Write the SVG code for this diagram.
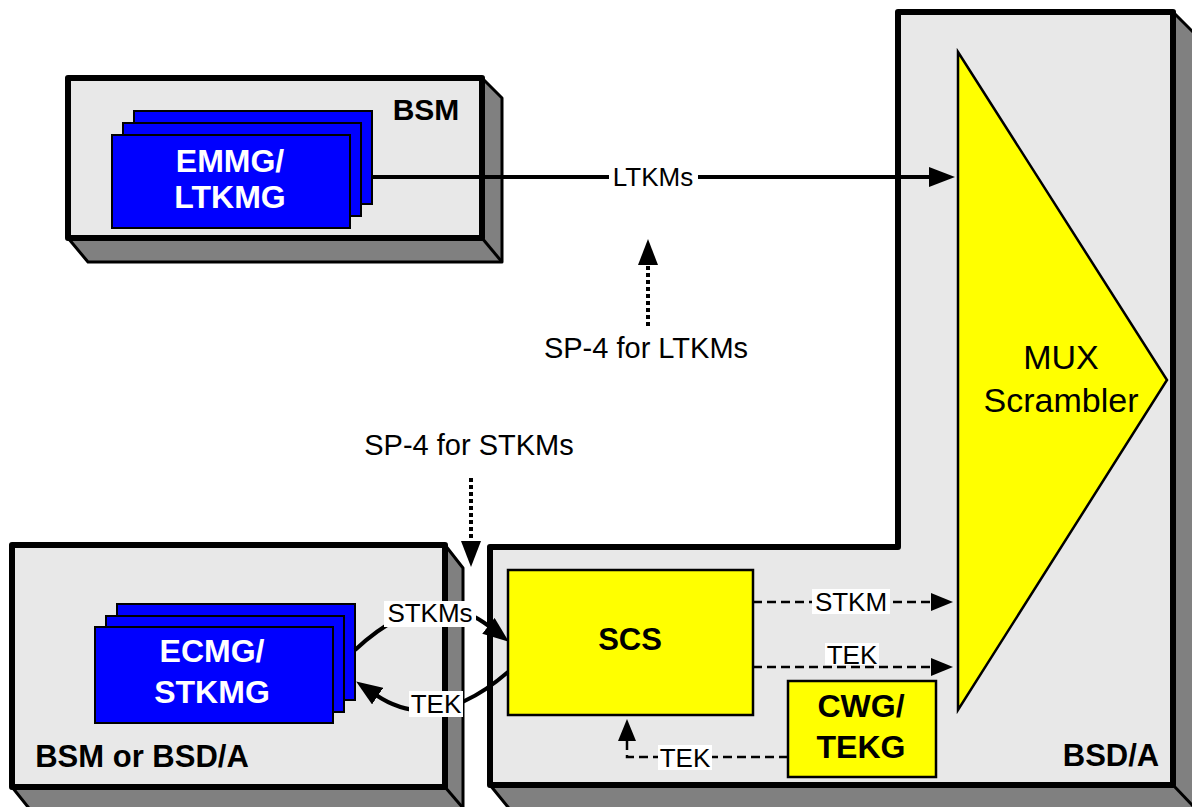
<svg xmlns="http://www.w3.org/2000/svg" width="1192" height="807" viewBox="0 0 1192 807">
<style>
.face{fill:#e8e8e8;stroke:#000;stroke-width:6;stroke-linejoin:round}
.ext{fill:#808080;stroke:#000;stroke-width:3;stroke-linejoin:round}
.edge{stroke:#000;stroke-width:3}
.blue{fill:#0000ff;stroke:#000;stroke-width:2}
.yel{fill:#ffff00;stroke:#000;stroke-width:2.5}
.t{font-family:"Liberation Sans",Arial,sans-serif;text-anchor:middle}
.wb{fill:#fff;font-weight:bold;font-size:32px}
.kb{fill:#000;font-weight:bold}
.lbl{fill:#000;font-size:26px}
.bg{fill:#fff}
.solid{fill:none;stroke:#000;stroke-width:4}
.dot{fill:none;stroke:#000;stroke-width:4;stroke-dasharray:4 3}
.dash{fill:none;stroke:#000;stroke-width:2.5;stroke-dasharray:9 5}
</style>
<defs>
<marker id="ah" markerUnits="userSpaceOnUse" markerWidth="26" markerHeight="20" refX="2" refY="10" orient="auto">
<path d="M0,0 L26,10 L0,20 Z" fill="#000"/>
</marker>
<marker id="ahs" markerUnits="userSpaceOnUse" markerWidth="22" markerHeight="20" refX="2" refY="10" orient="auto">
<path d="M0,1 L22,10 L0,19 Z" fill="#000"/>
</marker>
</defs>

<g id="bsm-box">
<polygon class="ext" points="482,78 502,98 502,262 88,262 68,238 482,238"/>
<line class="edge" x1="482" y1="238" x2="502" y2="262"/>
<rect class="face" x="68" y="78" width="414" height="160"/>
<text class="t kb" x="426" y="120" font-size="30">BSM</text>
</g>

<g id="bsd-box">
<polygon class="ext" points="1173,12 1196,35 1196,812 512,812 490,785 1173,785"/>
<line class="edge" x1="1173" y1="785" x2="1195" y2="808"/>
<path class="face" d="M490,547 L898,547 L898,12 L1173,12 L1173,785 L490,785 Z"/>
<text class="t kb" x="1111" y="766" font-size="31">BSD/A</text>
</g>

<g id="left-box">
<polygon class="ext" points="445,545 463,568 463,812 32,812 12,787 445,787"/>
<line class="edge" x1="445" y1="787" x2="463" y2="808"/>
<rect class="face" x="12" y="545" width="433" height="242"/>
<text class="t kb" x="142" y="767" font-size="31">BSM or BSD/A</text>
</g>

<g id="emmg">
<rect class="blue" x="134" y="111" width="238" height="93"/>
<rect class="blue" x="123" y="123" width="238" height="93"/>
<rect class="blue" x="112" y="135" width="238" height="93"/>
<text class="t wb" x="230" y="172">EMMG/</text>
<text class="t wb" x="230" y="208">LTKMG</text>
</g>

<g id="ecmg">
<rect class="blue" x="117" y="604" width="238" height="96"/>
<rect class="blue" x="106" y="616" width="238" height="96"/>
<rect class="blue" x="95" y="627" width="238" height="96"/>
<text class="t wb" x="212" y="662">ECMG/</text>
<text class="t wb" x="212" y="703">STKMG</text>
</g>

<g id="mux">
<polygon class="yel" points="958,52 1167,380 958,710"/>
<text class="t" x="1061" y="369" font-size="34">MUX</text>
<text class="t" x="1061" y="412" font-size="34">Scrambler</text>
</g>

<g id="scs">
<rect class="yel" x="508" y="570" width="245" height="145"/>
<text class="t kb" x="630" y="650" font-size="31">SCS</text>
</g>

<g id="cwg">
<rect class="yel" x="788" y="681" width="148" height="96"/>
<text class="t kb" x="861" y="717" font-size="32">CWG/</text>
<text class="t kb" x="861" y="758" font-size="32">TEKG</text>
</g>

<g id="connectors">
<line class="solid" x1="373" y1="177" x2="931" y2="177" marker-end="url(#ah)"/>
<line class="dot" x1="648" y1="326" x2="648" y2="263" marker-end="url(#ah)"/>
<line class="dot" x1="471" y1="478" x2="471" y2="543" marker-end="url(#ah)"/>
<path class="solid" d="M355,650 Q430,580 490,627" marker-end="url(#ah)"/>
<path class="solid" d="M508,672 Q435,735 376,695" marker-end="url(#ah)"/>
<line class="dash" x1="753" y1="602" x2="933" y2="602" marker-end="url(#ahs)"/>
<line class="dash" x1="753" y1="667" x2="933" y2="667" marker-end="url(#ahs)"/>
<polyline class="dash" points="788,757 627,757 627,739" marker-end="url(#ahs)"/>
</g>

<g id="labels">
<rect class="bg" x="609" y="165" width="89" height="24"/>
<text class="t lbl" x="653" y="186">LTKMs</text>
<text class="t" x="646" y="358" font-size="29">SP-4 for LTKMs</text>
<text class="t" x="469" y="455" font-size="29">SP-4 for STKMs</text>
<rect class="bg" x="384" y="601" width="92" height="26"/>
<text class="t lbl" x="430" y="622">STKMs</text>
<rect class="bg" x="409" y="691" width="54" height="26"/>
<text class="t lbl" x="436" y="713">TEK</text>
<rect class="bg" x="812" y="589" width="78" height="25"/>
<text class="t lbl" x="851" y="611">STKM</text>
<rect class="bg" x="825" y="643" width="54" height="22"/>
<text class="t lbl" x="852" y="664">TEK</text>
<rect class="bg" x="658" y="745" width="54" height="25"/>
<text class="t lbl" x="685" y="767">TEK</text>
</g>
</svg>
